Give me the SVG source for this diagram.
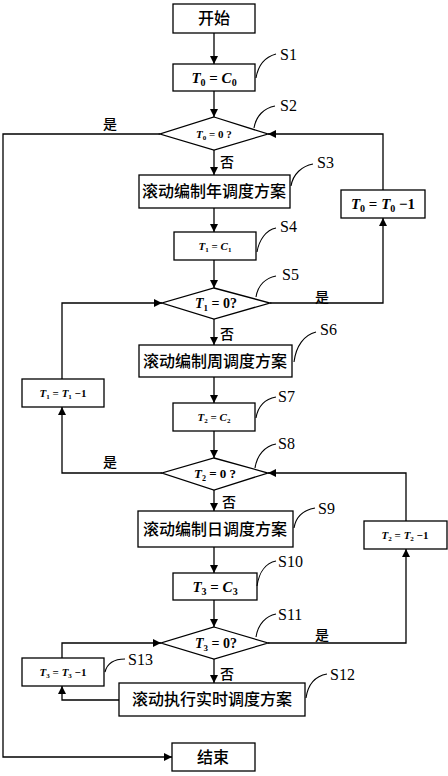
<svg xmlns="http://www.w3.org/2000/svg" width="448" height="776" viewBox="0 0 448 776">
<style>
.box{fill:#fff;stroke:#000;stroke-width:1.3}
.ln{fill:none;stroke:#000;stroke-width:1.3}
.cv{fill:none;stroke:#000;stroke-width:1.1}
.zh{font-family:"Noto Sans CJK SC","Noto Sans",sans-serif;font-size:16px;font-weight:500;text-anchor:middle;fill:#000}
.yn{font-family:"Noto Sans CJK SC","Noto Sans",sans-serif;font-size:14px;font-weight:500;fill:#000}
.sl{font-family:"Liberation Serif","Times New Roman",serif;font-size:16px;fill:#000}
.m{font-family:"Liberation Serif","Times New Roman",serif;font-weight:bold;text-anchor:middle;fill:#000}
.i{font-style:italic}
</style>
<defs>
<marker id="ar" viewBox="0 0 10 10" refX="10" refY="5" markerWidth="8" markerHeight="8" markerUnits="userSpaceOnUse" orient="auto">
<path d="M0,0 L10,5 L0,10 z" fill="#000"/>
</marker>
</defs>

<g id="connectors">
<path class="ln" d="M214,33 V64" marker-end="url(#ar)"/>
<path class="ln" d="M214,91 V117" marker-end="url(#ar)"/>
<path class="ln" d="M214,150 V175" marker-end="url(#ar)"/>
<path class="ln" d="M160,134 H3 V757 H172" marker-end="url(#ar)"/>
<path class="ln" d="M214,208 V232" marker-end="url(#ar)"/>
<path class="ln" d="M214,260 V288" marker-end="url(#ar)"/>
<path class="ln" d="M270,303 H383 V218" marker-end="url(#ar)"/>
<path class="ln" d="M383,190 V134 H268" marker-end="url(#ar)"/>
<path class="ln" d="M214,319 V345" marker-end="url(#ar)"/>
<path class="ln" d="M214,377 V403" marker-end="url(#ar)"/>
<path class="ln" d="M214,431 V458" marker-end="url(#ar)"/>
<path class="ln" d="M162,473 H62 V407" marker-end="url(#ar)"/>
<path class="ln" d="M62,379 V303 H162" marker-end="url(#ar)"/>
<path class="ln" d="M214,490 V511" marker-end="url(#ar)"/>
<path class="ln" d="M214,547 V573" marker-end="url(#ar)"/>
<path class="ln" d="M214,600 V627" marker-end="url(#ar)"/>
<path class="ln" d="M268,643 H406 V549" marker-end="url(#ar)"/>
<path class="ln" d="M406,521 V473 H268" marker-end="url(#ar)"/>
<path class="ln" d="M214,659 V683" marker-end="url(#ar)"/>
<path class="ln" d="M119,700 H62 V686" marker-end="url(#ar)"/>
<path class="ln" d="M62,658 V643 H161" marker-end="url(#ar)"/>
<text class="yn" x="103" y="129">是</text>
<text class="yn" x="315" y="302">是</text>
<text class="yn" x="103" y="467">是</text>
<text class="yn" x="315" y="640">是</text>
<text class="yn" x="220" y="167">否</text>
<text class="yn" x="220" y="339">否</text>
<text class="yn" x="222" y="507">否</text>
<text class="yn" x="220" y="679">否</text>
</g>

<g id="start">
<rect class="box" x="173" y="4" width="82" height="29"/>
<text class="zh" x="214" y="24">开始</text>
</g>

<g id="s1">
<rect class="box" x="173" y="64" width="82" height="27"/>
<text class="m" x="214" y="83" font-size="15"><tspan class="i">T</tspan><tspan font-size="10" dy="3">0</tspan><tspan dy="-3"> = </tspan><tspan class="i">C</tspan><tspan font-size="10" dy="3">0</tspan></text>
<path class="cv" d="M256,78 C258,66 265,57 276,54"/>
<text class="sl" x="280" y="60">S1</text>
</g>

<g id="s2">
<polygon class="box" points="214,117 268,134 214,150 160,134"/>
<text class="m" x="214" y="138" font-size="11"><tspan class="i">T</tspan><tspan font-size="7" dy="2">0</tspan><tspan dy="-2"> = 0  ?</tspan></text>
<path class="cv" d="M254,128 C256,116 264,108 275,106"/>
<text class="sl" x="280" y="111">S2</text>
</g>

<g id="s3">
<rect class="box" x="139" y="175" width="151" height="33"/>
<text class="zh" x="214" y="197">滚动编制年调度方案</text>
<path class="cv" d="M291,186 C293,174 302,166 313,164"/>
<text class="sl" x="317" y="168">S3</text>
</g>

<g id="t0dec">
<rect class="box" x="341" y="190" width="84" height="28"/>
<text class="m" x="383" y="209" font-size="15"><tspan class="i">T</tspan><tspan font-size="10" dy="3">0</tspan><tspan dy="-3"> = </tspan><tspan class="i">T</tspan><tspan font-size="10" dy="3">0</tspan><tspan dy="-3"> −1</tspan></text>
</g>

<g id="s4">
<rect class="box" x="174" y="232" width="82" height="28"/>
<text class="m" x="215" y="250" font-size="11"><tspan class="i">T</tspan><tspan font-size="7" dy="2">1</tspan><tspan dy="-2"> = </tspan><tspan class="i">C</tspan><tspan font-size="7" dy="2">1</tspan></text>
<path class="cv" d="M257,252 C259,240 266,230 276,228"/>
<text class="sl" x="280" y="232">S4</text>
</g>

<g id="s5">
<polygon class="box" points="214,288 270,303 214,319 162,303"/>
<text class="m" x="216" y="308" font-size="14" font-weight="normal"><tspan class="i">T</tspan><tspan font-size="9" dy="3">1</tspan><tspan dy="-3"> = 0?</tspan></text>
<path class="cv" d="M256,297 C258,285 266,278 276,276"/>
<text class="sl" x="282" y="280">S5</text>
</g>

<g id="t1dec">
<rect class="box" x="22" y="379" width="82" height="28"/>
<text class="m" x="63" y="397" font-size="11"><tspan class="i">T</tspan><tspan font-size="7" dy="2">1</tspan><tspan dy="-2"> = </tspan><tspan class="i">T</tspan><tspan font-size="7" dy="2">1</tspan><tspan dy="-2"> −1</tspan></text>
</g>

<g id="s6">
<rect class="box" x="139" y="345" width="153" height="32"/>
<text class="zh" x="215" y="367">滚动编制周调度方案</text>
<path class="cv" d="M294,362 C296,346 304,335 316,332"/>
<text class="sl" x="320" y="335">S6</text>
</g>

<g id="s7">
<rect class="box" x="173" y="403" width="82" height="28"/>
<text class="m" x="214" y="421" font-size="11"><tspan class="i">T</tspan><tspan font-size="7" dy="2">2</tspan><tspan dy="-2"> = </tspan><tspan class="i">C</tspan><tspan font-size="7" dy="2">2</tspan></text>
<path class="cv" d="M256,418 C258,406 265,399 276,397"/>
<text class="sl" x="278" y="402">S7</text>
</g>

<g id="s8">
<polygon class="box" points="214,458 268,473 214,490 162,473"/>
<text class="m" x="215" y="478" font-size="13" font-weight="normal"><tspan class="i">T</tspan><tspan font-size="8" dy="3">2</tspan><tspan dy="-3"> = 0 ?</tspan></text>
<path class="cv" d="M255,468 C257,455 265,446 276,444"/>
<text class="sl" x="278" y="449">S8</text>
</g>

<g id="t2dec">
<rect class="box" x="364" y="521" width="83" height="28"/>
<text class="m" x="405" y="539" font-size="11" font-weight="normal"><tspan class="i">T</tspan><tspan font-size="7" dy="2">2</tspan><tspan dy="-2"> = </tspan><tspan class="i">T</tspan><tspan font-size="7" dy="2">2</tspan><tspan dy="-2"> −1</tspan></text>
</g>

<g id="s9">
<rect class="box" x="138" y="511" width="155" height="36"/>
<text class="zh" x="215" y="535">滚动编制日调度方案</text>
<path class="cv" d="M294,528 C296,516 304,510 315,508"/>
<text class="sl" x="318" y="514">S9</text>
</g>

<g id="s10">
<rect class="box" x="173" y="573" width="84" height="27"/>
<text class="m" x="215" y="592" font-size="15"><tspan class="i">T</tspan><tspan font-size="10" dy="3">3</tspan><tspan dy="-3"> = </tspan><tspan class="i">C</tspan><tspan font-size="10" dy="3">3</tspan></text>
<path class="cv" d="M257,586 C259,572 266,563 276,561"/>
<text class="sl" x="278" y="567">S10</text>
</g>

<g id="s11">
<polygon class="box" points="214,627 268,643 214,659 161,643"/>
<text class="m" x="216" y="648" font-size="14" font-weight="normal"><tspan class="i">T</tspan><tspan font-size="9" dy="3">3</tspan><tspan dy="-3"> = 0?</tspan></text>
<path class="cv" d="M256,637 C258,624 266,616 276,614"/>
<text class="sl" x="278" y="620">S11</text>
</g>

<g id="s12">
<rect class="box" x="119" y="683" width="186" height="33"/>
<text class="zh" x="212" y="705">滚动执行实时调度方案</text>
<path class="cv" d="M306,698 C308,684 316,676 327,674"/>
<text class="sl" x="330" y="680">S12</text>
</g>

<g id="s13">
<rect class="box" x="22" y="658" width="82" height="28"/>
<text class="m" x="63" y="676" font-size="11"><tspan class="i">T</tspan><tspan font-size="7" dy="2">3</tspan><tspan dy="-2"> = </tspan><tspan class="i">T</tspan><tspan font-size="7" dy="2">3</tspan><tspan dy="-2"> −1</tspan></text>
<path class="cv" d="M105,672 C107,664 114,659 125,659"/>
<text class="sl" x="128" y="665">S13</text>
</g>

<g id="end">
<rect class="box" x="172" y="743" width="83" height="28"/>
<text class="zh" x="213" y="763">结束</text>
</g>
</svg>
